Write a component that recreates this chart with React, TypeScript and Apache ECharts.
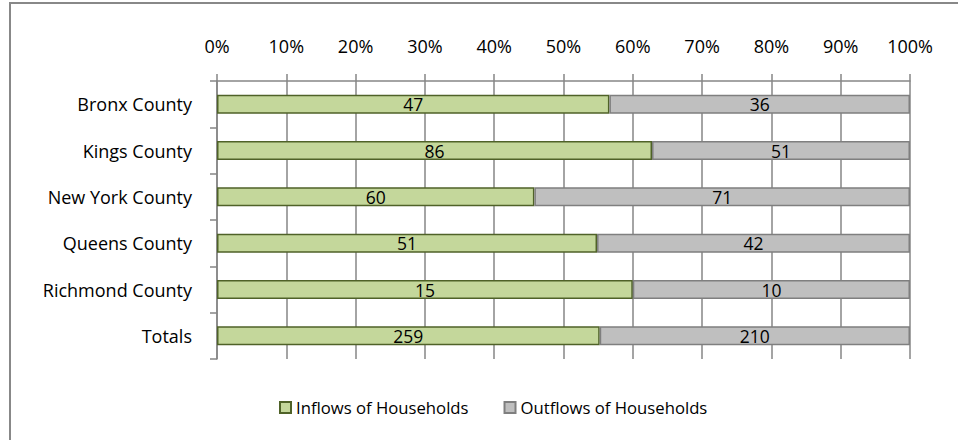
import React, { useEffect, useRef } from "react";
import * as echarts from "echarts";

const categories = ["Bronx County", "Kings County", "New York County", "Queens County", "Richmond County", "Totals"];
const inflows = [47, 86, 60, 51, 15, 259];
const outflows = [36, 51, 71, 42, 10, 210];
const seriesNames = ["Inflows of Households", "Outflows of Households"];
const tickValues = [0, 10, 20, 30, 40, 50, 60, 70, 80, 90, 100];

const FONT = "Open Sans";

export default function App() {
  const ref = useRef<HTMLDivElement>(null);
  useEffect(() => {
    if (!ref.current) return;
    const chart = echarts.init(ref.current, undefined, { renderer: "svg" });
    const totals = inflows.map((v, i) => v + outflows[i]);
    const inPct = inflows.map((v, i) => ({ value: (v / totals[i]) * 100, raw: v }));
    const outPct = outflows.map((v, i) => ({ value: (v / totals[i]) * 100, raw: v }));
    const labelCfg = {
      show: true,
      position: "inside",
      color: "#000",
      fontFamily: FONT,
      fontSize: 17.5,
      formatter: (p: any) => String(p.data.raw),
    };
    chart.setOption({
      animation: false,
      backgroundColor: "#fff",
      graphic: [
        {
          type: "rect",
          shape: { x: 10, y: 3, width: 1000, height: 500 },
          style: { fill: "none", stroke: "#888", lineWidth: 2 },
          silent: true,
        },
      ],
      grid: { left: 217, right: 48, top: 81, bottom: 81 },
      legend: {
        bottom: 19,
        left: 274,
        itemWidth: 11,
        itemHeight: 11,
        itemGap: 35,
        icon: "rect",
        textStyle: { fontFamily: FONT, fontSize: 16.7, color: "#000" },
        data: seriesNames,
      },
      xAxis: {
        type: "value",
        position: "top",
        min: tickValues[0],
        max: tickValues[tickValues.length - 1],
        interval: 10,
        axisLine: { show: true, lineStyle: { color: "#868686", width: 1.5 } },
        axisTick: { show: true, length: 7, lineStyle: { color: "#868686", width: 1.5 } },
        splitLine: { show: true, lineStyle: { color: "#868686", width: 1.5 } },
        axisLabel: {
          formatter: "{value}%",
          margin: 26,
          color: "#000",
          fontFamily: FONT,
          fontSize: 18,
        },
      },
      yAxis: {
        type: "category",
        inverse: true,
        data: categories,
        axisLine: { show: true, lineStyle: { color: "#868686", width: 1.5 } },
        axisTick: { show: true, length: 7, alignWithLabel: false, lineStyle: { color: "#868686", width: 1.5 } },
        splitLine: { show: false },
        axisLabel: { margin: 25, color: "#000", fontFamily: FONT, fontSize: 18 },
      },
      series: [
        {
          name: seriesNames[0],
          type: "bar",
          stack: "total",
          barWidth: 19,
          data: inPct,
          itemStyle: { color: "#C4D79B", borderColor: "#4F6228", borderWidth: 1.5 },
          label: labelCfg,
        },
        {
          name: seriesNames[1],
          type: "bar",
          stack: "total",
          barWidth: 19,
          data: outPct,
          itemStyle: { color: "#BFBFBF", borderColor: "#7F7F7F", borderWidth: 1.5 },
          label: labelCfg,
        },
      ],
    });
    return () => chart.dispose();
  }, []);
  return <div ref={ref} style={{ position: "fixed", left: 0, top: 0, width: 958, height: 440 }} />;
}
